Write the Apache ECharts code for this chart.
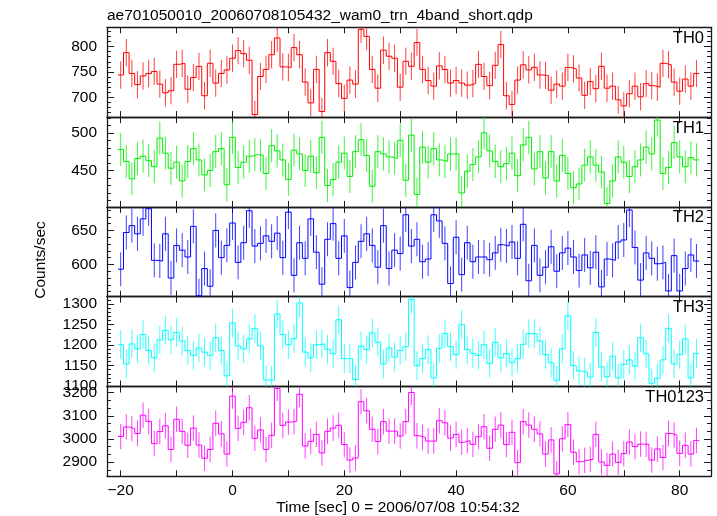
<!DOCTYPE html>
<html><head><meta charset="utf-8">
<script src="https://cdn.jsdelivr.net/npm/echarts@6/dist/echarts.min.js"></script>
<style>html,body{margin:0;padding:0;background:#fff}#c{width:717px;height:516px}</style>
</head><body><div id="c"></div><script>
// ---- data (bin centres in seconds, count rates in counts/sec) ----
const times = [-20,-19,-18,-17,-16,-15,-14,-13,-12,-11,-10,-9,-8,-7,-6,-5,-4,-3,-2,-1,
  0,1,2,3,4,5,6,7,8,9,10,11,12,13,14,15,16,17,18,19,20,21,22,23,24,25,26,27,28,29,
  30,31,32,33,34,35,36,37,38,39,40,41,42,43,44,45,46,47,48,49,50,51,52,53,54,55,56,57,58,59,
  60,61,62,63,64,65,66,67,68,69,70,71,72,73,74,75,76,77,78,79,80,81,82,83];

const th0 = [744,788,747,725,742,747,751,726,709,713,765,767,716,739,761,703,767,728,747,754,
  777,792,786,773,666,741,755,784,817,760,759,798,784,730,689,755,672,788,771,727,
  698,734,726,834,820,755,718,793,781,777,720,771,761,808,755,733,722,762,755,728,
  733,728,724,727,765,741,723,763,804,703,686,734,764,754,759,744,743,714,726,722,
  759,756,738,704,731,717,761,718,722,695,683,707,722,701,727,723,720,767,764,730,
  712,736,722,747];

const th1 = [478,462,439,466,469,463,455,493,473,453,461,436,462,479,464,444,450,475,479,431,
  494,454,461,469,471,470,446,483,476,464,438,477,472,450,469,447,494,430,438,461,
  473,442,475,491,470,429,475,472,468,466,490,437,497,418,481,461,479,464,462,472,
  472,420,449,458,468,500,476,462,455,459,473,443,484,494,452,475,440,475,436,470,
  446,427,432,457,468,457,448,406,436,468,461,442,455,464,481,472,517,446,454,487,
  468,455,467,464];

const th2 = [593,647,657,645,667,682,606,605,645,580,628,621,611,656,554,594,568,650,610,628,
  661,603,632,679,627,631,642,634,646,610,677,584,632,609,667,618,571,637,660,609,
  642,566,603,634,645,628,596,657,594,621,616,673,627,637,604,608,673,664,631,572,
  640,585,632,604,611,611,607,617,629,627,633,609,659,576,628,584,596,626,590,617,
  624,611,591,614,595,618,567,608,606,633,636,680,625,577,617,609,601,603,561,613,
  561,594,614,605];

const th3 = [1201,1154,1203,1191,1226,1187,1169,1213,1236,1213,1231,1210,1187,1175,1193,1183,1175,1218,1187,1125,
  1254,1198,1191,1215,1241,1198,1115,1114,1276,1226,1201,1216,1303,1183,1169,1201,1203,1190,1179,1262,
  1167,1167,1116,1198,1189,1230,1207,1154,1193,1171,1187,1196,1312,1150,1167,1189,1120,1192,1228,1196,
  1177,1250,1189,1180,1175,1201,1155,1207,1169,1180,1157,1167,1202,1228,1228,1210,1177,1157,1114,1191,
  1272,1150,1137,1134,1122,1231,1147,1123,1173,1120,1153,1164,1149,1218,1179,1107,1119,1164,1241,1154,
  1177,1215,1120,1180];

const th0123 = [3011,3052,3045,3024,3103,3076,2980,3032,3057,2955,3085,3033,2973,3047,2974,2917,2955,3068,3022,2935,
  3185,3046,3072,3135,3003,3039,2955,3016,3218,3059,3073,3076,3193,2970,2990,3020,2940,3033,3047,3059,
  2976,2909,2918,3161,3122,3042,2989,3075,3034,3034,3013,3075,3201,3014,3007,2991,2991,3079,3070,3004,
  3020,2986,2993,2977,3010,3053,2960,3042,3060,2976,3029,2898,3075,3060,3042,3022,2935,2996,2849,3001,
  3062,2943,2902,2908,2912,3020,2901,2886,2935,2899,2937,2987,2967,2978,2977,2909,2957,2920,3024,3017,
  2938,2973,2935,2994];

// typical 1-sigma half-length of the error bars in each panel
const halfErrors = [27, 22, 25, 35, 55];
const panelNames = ['TH0', 'TH1', 'TH2', 'TH3', 'TH0123'];
const panelValues = [th0, th1, th2, th3, th0123];

// tick values
const xTickValues = [-20,-10,0,10,20,30,40,50,60,70,80];
const xLabelValues = [-20,0,20,40,60,80];
const yLabelValues = [[700,750,800],[450,500],[600,650],[1100,1150,1200,1250,1300],[2900,3000,3100,3200]];
const yRanges = [[661,838],[401.5,521],[552.6,684.6],[1099,1318.3],[2839,3226.7]];
const yMinorStep = [10,10,10,10,100/3];

const titleText = 'ae701050010_20060708105432_wam0_trn_4band_short.qdp';
const xName = 'Time [sec] 0 = 2006/07/08 10:54:32';
const yName = 'Counts/sec';

// ---- styling / layout ----
const FONT = '"Liberation Sans", Arial, Helvetica, sans-serif';
const FS = 15.5;
const colors = ['#ff0000','#00ee00','#0000ff','#00ffff','#ff00ff'];
const X_MIN = -22.45, X_MAX = 85.6;
const LEFT = 107, WIDTH = 604, TOP = 27.3, PH = 89.8;
const frame = {color:'#1a1a1a', width:1.3};
const tickStyle = {color: '#1a1a1a', width: 1};

function minorTicks(i) {
  const [lo, hi] = yRanges[i];
  const step = yMinorStep[i];
  const base = yLabelValues[i][0];
  const out = [];
  let k = Math.ceil((lo - base) / step - 1e-9);
  for (;; k++) {
    const v = base + k * step;
    if (v > hi) break;
    if (v >= lo) out.push(+v.toFixed(4));
  }
  return out;
}

const grid = [], xAxis = [], yAxis = [], series = [], graphic = [];

for (let i = 0; i < 5; i++) {
  grid.push({left: LEFT, width: WIDTH, top: TOP + i * PH, height: PH, containLabel: false, outerBoundsMode: 'none'});
  const xBase = {
    gridIndex: i, type: 'value', min: X_MIN, max: X_MAX,
    splitLine: {show: false},
    axisLine: {show: true, onZero: false, lineStyle: frame},
    axisTick: {show: true, inside: true, length: 6, customValues: xTickValues, lineStyle: tickStyle}
  };
  xAxis.push(Object.assign({}, xBase, {
    position: 'bottom',
    axisLabel: {show: i === 4, customValues: xLabelValues, margin: 6, color: '#000', fontSize: FS, fontFamily: FONT,
      formatter: v => String(v).replace('-', '\u2212')}
  }));
  xAxis.push(Object.assign({}, xBase, {position: 'top', axisLabel: {show: false}}));

  const [ymin, ymax] = yRanges[i];
  const yBase = {gridIndex: i, type: 'value', min: ymin, max: ymax, splitLine: {show: false}, scale: true};
  const minors = minorTicks(i);
  // left major with labels
  yAxis.push(Object.assign({}, yBase, {
    position: 'left',
    axisLine: {show: true, onZero: false, lineStyle: frame},
    axisTick: {show: true, inside: true, length: 7, customValues: yLabelValues[i], lineStyle: tickStyle},
    axisLabel: {show: true, customValues: yLabelValues[i], margin: 10, color: '#000', fontSize: FS, fontFamily: FONT,
      formatter: v => String(v)}
  }));
  // left minor
  yAxis.push(Object.assign({}, yBase, {
    position: 'left', axisLine: {show: false, onZero: false},
    axisTick: {show: true, inside: true, length: 4, customValues: minors, lineStyle: tickStyle},
    axisLabel: {show: false}
  }));
  // right major
  yAxis.push(Object.assign({}, yBase, {
    position: 'right',
    axisLine: {show: true, onZero: false, lineStyle: frame},
    axisTick: {show: true, inside: true, length: 7, customValues: yLabelValues[i], lineStyle: tickStyle},
    axisLabel: {show: false}
  }));
  // right minor
  yAxis.push(Object.assign({}, yBase, {
    position: 'right', axisLine: {show: false, onZero: false},
    axisTick: {show: true, inside: true, length: 4, customValues: minors, lineStyle: tickStyle},
    axisLabel: {show: false}
  }));

  const vals = panelValues[i];
  const stepData = [];
  const errData = [];
  for (let k = 0; k < times.length; k++) {
    stepData.push([times[k] - 0.5, vals[k]]);
    stepData.push([times[k] + 0.5, vals[k]]);
    errData.push([times[k], vals[k], halfErrors[i]]);
  }
  const col = colors[i];
  series.push({
    type: 'custom', xAxisIndex: 2 * i, yAxisIndex: 4 * i, clip: true, silent: true,
    data: errData, encode: {x: 0, y: 1},
    renderItem: (params, api) => {
      const x = api.value(0), y = api.value(1), e = api.value(2);
      const p1 = api.coord([x, y - e]);
      const p2 = api.coord([x, y + e]);
      return {type: 'line', shape: {x1: p1[0], y1: p1[1], x2: p2[0], y2: p2[1]},
        style: {stroke: col, lineWidth: 1, opacity: 0.75}};
    }
  });
  series.push({
    type: 'line', xAxisIndex: 2 * i, yAxisIndex: 4 * i, data: stepData,
    showSymbol: false, symbol: 'none', clip: true, silent: true,
    lineStyle: {color: col, width: 1}, itemStyle: {color: col}
  });

  graphic.push({type: 'text', x: 704, y: TOP + i * PH + 11,
    style: {text: panelNames[i], align: 'right', verticalAlign: 'middle', fontSize: FS + 1, fontFamily: FONT, fill: '#000'}});
}

graphic.push({type: 'text', x: 107, y: 15.5,
  style: {text: titleText, align: 'left', verticalAlign: 'middle', fontSize: FS, fontFamily: FONT, fill: '#000'}});
graphic.push({type: 'text', x: 398, y: 508,
  style: {text: xName, align: 'center', verticalAlign: 'middle', fontSize: FS, fontFamily: FONT, fill: '#000'}});
graphic.push({type: 'text', x: 41, y: 260, rotation: Math.PI / 2,
  style: {text: yName, align: 'center', verticalAlign: 'middle', fontSize: FS, fontFamily: FONT, fill: '#000'}});

const chart = echarts.init(document.getElementById('c'), null, {renderer: 'canvas'});
chart.setOption({animation: false, backgroundColor: '#fff', grid, xAxis, yAxis, series, graphic});
</script></body></html>
